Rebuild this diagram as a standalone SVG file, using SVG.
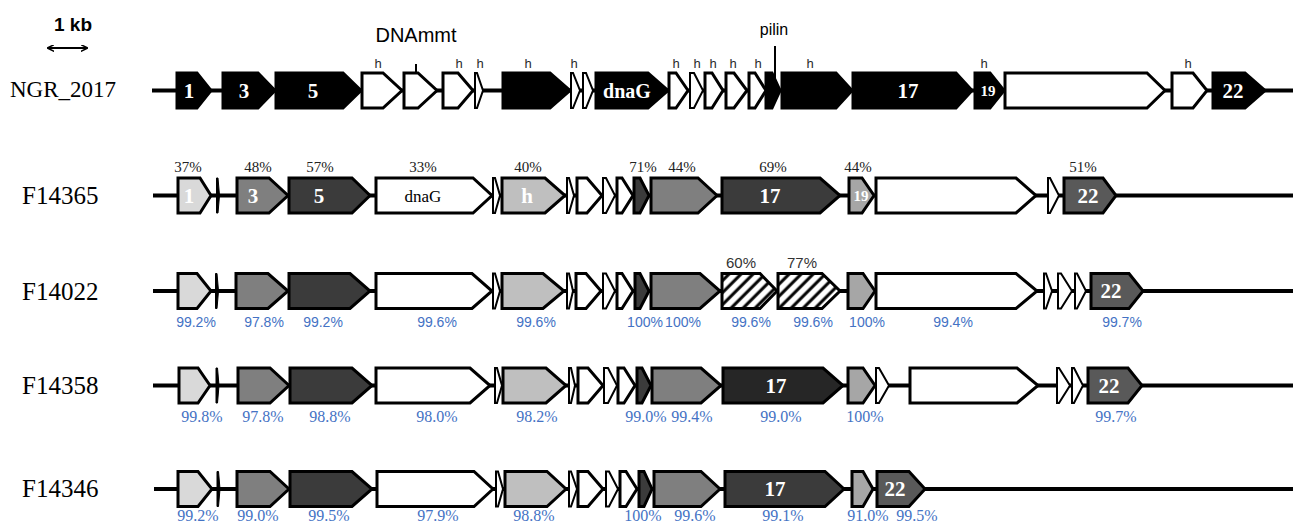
<svg xmlns="http://www.w3.org/2000/svg" width="1293" height="524" viewBox="0 0 1293 524">
<defs>
<pattern id="hatch" patternUnits="userSpaceOnUse" width="8.5" height="8.5" patternTransform="rotate(45)">
<rect width="8.5" height="8.5" fill="#fff"/>
<line x1="2" y1="0" x2="2" y2="8.5" stroke="#000" stroke-width="3"/>
</pattern>
<marker id="ah" viewBox="0 0 10 10" refX="9" refY="5" markerWidth="7" markerHeight="7" orient="auto-start-reverse" markerUnits="userSpaceOnUse">
<path d="M0,0 L10,5 L0,10" fill="none" stroke="#000" stroke-width="2"/>
</marker>
<style>
.g{stroke:#000;stroke-width:3;stroke-linejoin:miter}
.n{stroke:#000;stroke-width:2;stroke-linejoin:miter}
.nb{fill:#000;stroke:#000;stroke-width:1}
.k{fill:#000}.w{fill:#fff}.l{fill:#d9d9d9}.m{fill:#7f7f7f}.d{fill:#3b3b3b}.hl{fill:#bfbfbf}.s{fill:#a6a6a6}.t{fill:#595959}.dd{fill:#262626}.hx{fill:url(#hatch)}
.bb{stroke:#000;stroke-width:4;fill:none}
.gl{font-family:"Liberation Serif",serif;font-weight:bold;font-size:21px;fill:#fff;text-anchor:middle}
.gs{font-family:"Liberation Serif",serif;font-weight:bold;font-size:15px;fill:#fff;text-anchor:middle}
.gn{font-family:"Liberation Serif",serif;font-size:17px;fill:#000;text-anchor:middle}
.pc{font-family:"Liberation Serif",serif;font-size:15px;fill:#222;text-anchor:middle}
.ps{font-family:"Liberation Sans",sans-serif;font-size:15px;fill:#333;text-anchor:middle}
.bl{font-family:"Liberation Sans",sans-serif;font-size:14px;fill:#4472c4;text-anchor:middle}
.bs{font-family:"Liberation Serif",serif;font-size:16px;fill:#4472c4;text-anchor:middle}
.hh{font-family:"Liberation Sans",sans-serif;font-size:13px;fill:#2a2a2a;text-anchor:middle}
.rl{font-family:"Liberation Serif",serif;font-size:25px;fill:#000}
</style>
</defs>
<rect width="1293" height="524" fill="#fff"/>

<g id="scalebar">
<text x="73" y="31" font-family="Liberation Sans, sans-serif" font-weight="bold" font-size="19" text-anchor="middle" fill="#000">1 kb</text>
<line x1="48" y1="48" x2="87" y2="48" stroke="#000" stroke-width="2" marker-start="url(#ah)" marker-end="url(#ah)"/>
</g>

<g id="backbones">
<line class="bb" x1="152" y1="90.5" x2="1293" y2="90.5"/>
<line class="bb" x1="153" y1="195.5" x2="1293" y2="195.5"/>
<line class="bb" x1="153" y1="291" x2="1293" y2="291"/>
<line class="bb" x1="153" y1="385.5" x2="1293" y2="385.5"/>
<line class="bb" x1="154" y1="489" x2="1293" y2="489"/>
</g>

<g id="row-NGR_2017">
<text class="rl" x="10" y="97" style="font-size:23px">NGR_2017</text>
<text x="416" y="42" font-family="Liberation Sans, sans-serif" font-size="20" text-anchor="middle" fill="#000">DNAmmt</text>
<line x1="416" y1="64" x2="416" y2="73" stroke="#000" stroke-width="2"/>
<text x="774" y="35" font-family="Liberation Sans, sans-serif" font-size="16" text-anchor="middle" fill="#000">pilin</text>
<line x1="775" y1="46" x2="775" y2="80" stroke="#000" stroke-width="2"/>
<g class="hh">
<text x="378" y="68">h</text><text x="459" y="68">h</text><text x="480" y="68">h</text><text x="528" y="68">h</text><text x="574" y="68">h</text>
<text x="676" y="68">h</text><text x="697" y="68">h</text><text x="713" y="68">h</text><text x="733" y="68">h</text><text x="758" y="68">h</text>
<text x="810" y="68">h</text><text x="984" y="68">h</text><text x="1188" y="68">h</text>
</g>
<g transform="translate(0,90.5)">
<g id="r1-g1"><polygon class="g k" points="177,-17.5 197,-17.5 211,0 197,17.5 177,17.5"/><text class="gl" x="189" y="7">1</text></g>
<g id="r1-g3"><polygon class="g k" points="223,-17.5 258,-17.5 275,0 258,17.5 223,17.5"/><text class="gl" x="244" y="7">3</text></g>
<g id="r1-g5"><polygon class="g k" points="276,-17.5 343,-17.5 361,0 343,17.5 276,17.5"/><text class="gl" x="313" y="7">5</text></g>
<g id="r1-h1"><polygon class="g w" points="362,-17.5 383,-17.5 402,0 383,17.5 362,17.5"/></g>
<g id="r1-dnammt"><polygon class="g w" points="404,-17.5 418,-17.5 437,0 418,17.5 404,17.5"/></g>
<g id="r1-h2"><polygon class="g w" points="443,-17.5 458,-17.5 473,0 458,17.5 443,17.5"/></g>
<g id="r1-h3"><polygon class="n w" points="475,-17.5 477,-17.5 483,0 477,17.5 475,17.5"/></g>
<g id="r1-h4"><polygon class="g k" points="503,-17.5 550,-17.5 570,0 550,17.5 503,17.5"/></g>
<g id="r1-h5a"><polygon class="n w" points="571,-17.5 573,-17.5 580,0 573,17.5 571,17.5"/></g>
<g id="r1-h5b"><polygon class="n w" points="583,-17.5 586,-17.5 593,0 586,17.5 583,17.5"/></g>
<g id="r1-dnaG"><polygon class="g k" points="596,-17.5 648,-17.5 668,0 648,17.5 596,17.5"/><text class="gl" x="627" y="7" style="font-size:20px">dnaG</text></g>
<g id="r1-h6"><polygon class="g w" points="669,-17.5 676,-17.5 688,0 676,17.5 669,17.5"/></g>
<g id="r1-h7"><polygon class="n w" points="690,-17.5 694,-17.5 703,0 694,17.5 690,17.5"/></g>
<g id="r1-h8"><polygon class="g w" points="705,-17.5 712,-17.5 723,0 712,17.5 705,17.5"/></g>
<g id="r1-h9"><polygon class="g w" points="726,-17.5 734,-17.5 747,0 734,17.5 726,17.5"/></g>
<g id="r1-h10"><polygon class="g w" points="749,-17.5 755,-17.5 766,0 755,17.5 749,17.5"/></g>
<g id="r1-pilin"><polygon class="g k" points="766,-17.5 772,-17.5 780,0 772,17.5 766,17.5"/></g>
<g id="r1-h11"><polygon class="g k" points="782,-17.5 836,-17.5 852,0 836,17.5 782,17.5"/></g>
<g id="r1-g17"><polygon class="g k" points="853,-17.5 956,-17.5 972,0 956,17.5 853,17.5"/><text class="gl" x="908" y="7">17</text></g>
<g id="r1-g19"><polygon class="g k" points="975,-17.5 990,-17.5 1004,0 990,17.5 975,17.5"/><text class="gs" x="988" y="5">19</text></g>
<g id="r1-w20"><polygon class="g w" points="1005,-17.5 1147,-17.5 1165,0 1147,17.5 1005,17.5"/></g>
<g id="r1-h12"><polygon class="g w" points="1172,-17.5 1193,-17.5 1207,0 1193,17.5 1172,17.5"/></g>
<g id="r1-g22"><polygon class="g k" points="1213,-17.5 1245,-17.5 1265,0 1245,17.5 1213,17.5"/><text class="gl" x="1233" y="7">22</text></g>
</g>
</g>

<g id="row-F14365">
<text class="rl" x="22" y="204">F14365</text>
<g class="pc">
<text x="188" y="172">37%</text><text x="258" y="172">48%</text><text x="320" y="172">57%</text><text x="423" y="172">33%</text><text x="528" y="172">40%</text>
<text x="643" y="172">71%</text><text x="682" y="172">44%</text><text x="773" y="172">69%</text><text x="858" y="172">44%</text><text x="1083" y="172">51%</text>
</g>
<g transform="translate(0,195.5)">
<g id="r2-g1"><polygon class="g l" points="178,-17.5 200,-17.5 211,0 200,17.5 178,17.5"/><text class="gl" x="189" y="7">1</text></g>
<g id="r2-g2"><polygon class="nb" points="216.5,-17.5 218,-17.5 219.5,0 218,17.5 216.5,17.5"/></g>
<g id="r2-g3"><polygon class="g m" points="237,-17.5 269,-17.5 288,0 269,17.5 237,17.5"/><text class="gl" x="253" y="7">3</text></g>
<g id="r2-g5"><polygon class="g d" points="289,-17.5 352,-17.5 370,0 352,17.5 289,17.5"/><text class="gl" x="319" y="7">5</text></g>
<g id="r2-dnaG"><polygon class="g w" points="376,-17.5 473,-17.5 492,0 473,17.5 376,17.5"/><text class="gn" x="423" y="6">dnaG</text></g>
<g id="r2-n1"><polygon class="n w" points="493,-17.5 495,-17.5 500,0 495,17.5 493,17.5"/></g>
<g id="r2-h"><polygon class="g hl" points="502,-17.5 545,-17.5 565,0 545,17.5 502,17.5"/><text class="gl" x="527" y="7">h</text></g>
<g id="r2-n2"><polygon class="n w" points="567,-17.5 569,-17.5 574,0 569,17.5 567,17.5"/></g>
<g id="r2-w1"><polygon class="g w" points="577,-17.5 587,-17.5 602,0 587,17.5 577,17.5"/></g>
<g id="r2-w2"><polygon class="n w" points="603,-17.5 606,-17.5 615,0 606,17.5 603,17.5"/></g>
<g id="r2-w3"><polygon class="g w" points="617,-17.5 622,-17.5 633,0 622,17.5 617,17.5"/></g>
<g id="r2-d1"><polygon class="g d" points="634,-17.5 640,-17.5 649,0 640,17.5 634,17.5"/></g>
<g id="r2-m1"><polygon class="g m" points="651,-17.5 698,-17.5 717,0 698,17.5 651,17.5"/></g>
<g id="r2-g17"><polygon class="g d" points="722,-17.5 820,-17.5 840,0 820,17.5 722,17.5"/><text class="gl" x="770" y="7">17</text></g>
<g id="r2-g19"><polygon class="g s" points="849,-17.5 862,-17.5 874,0 862,17.5 849,17.5"/><text class="gs" x="861" y="5">19</text></g>
<g id="r2-w4"><polygon class="g w" points="876,-17.5 1016,-17.5 1036,0 1016,17.5 876,17.5"/></g>
<g id="r2-n3"><polygon class="n w" points="1048,-17.5 1050,-17.5 1059,0 1050,17.5 1048,17.5"/></g>
<g id="r2-g22"><polygon class="g t" points="1064,-17.5 1103,-17.5 1116,0 1103,17.5 1064,17.5"/><text class="gl" x="1088" y="7">22</text></g>
</g>
</g>

<g id="row-F14022">
<text class="rl" x="22" y="300">F14022</text>
<text class="ps" x="741" y="268">60%</text><text class="ps" x="802" y="268">77%</text>
<g class="bl">
<text x="196" y="327">99.2%</text><text x="264" y="327">97.8%</text><text x="323" y="327">99.2%</text><text x="437" y="327">99.6%</text><text x="536" y="327">99.6%</text>
<text x="645" y="327">100%</text><text x="683" y="327">100%</text><text x="751" y="327">99.6%</text><text x="813" y="327">99.6%</text><text x="867" y="327">100%</text>
<text x="953" y="327">99.4%</text><text x="1122" y="327">99.7%</text>
</g>
<g transform="translate(0,291)">
<g id="r3-g1"><polygon class="g l" points="178,-17.5 197,-17.5 211,0 197,17.5 178,17.5"/></g>
<g id="r3-g2"><polygon class="nb" points="215.5,-17.5 217,-17.5 218.5,0 217,17.5 215.5,17.5"/></g>
<g id="r3-g3"><polygon class="g m" points="236,-17.5 268,-17.5 288,0 268,17.5 236,17.5"/></g>
<g id="r3-g5"><polygon class="g d" points="289,-17.5 350,-17.5 370,0 350,17.5 289,17.5"/></g>
<g id="r3-dnaG"><polygon class="g w" points="376,-17.5 472,-17.5 492,0 472,17.5 376,17.5"/></g>
<g id="r3-n1"><polygon class="n w" points="493,-17.5 495,-17.5 500,0 495,17.5 493,17.5"/></g>
<g id="r3-h"><polygon class="g hl" points="502,-17.5 543,-17.5 564,0 543,17.5 502,17.5"/></g>
<g id="r3-n2"><polygon class="n w" points="567,-17.5 569,-17.5 573,0 569,17.5 567,17.5"/></g>
<g id="r3-w1"><polygon class="g w" points="576,-17.5 586,-17.5 601,0 586,17.5 576,17.5"/></g>
<g id="r3-w2"><polygon class="n w" points="603,-17.5 606,-17.5 615,0 606,17.5 603,17.5"/></g>
<g id="r3-w3"><polygon class="g w" points="617,-17.5 622,-17.5 633,0 622,17.5 617,17.5"/></g>
<g id="r3-d1"><polygon class="g d" points="635,-17.5 640,-17.5 649,0 640,17.5 635,17.5"/></g>
<g id="r3-m1"><polygon class="g m" points="651,-17.5 700,-17.5 720,0 700,17.5 651,17.5"/></g>
<g id="r3-x1"><polygon class="g hx" points="722,-17.5 760,-17.5 777,0 760,17.5 722,17.5"/></g>
<g id="r3-x2"><polygon class="g hx" points="778,-17.5 822,-17.5 840,0 822,17.5 778,17.5"/></g>
<g id="r3-g19"><polygon class="g s" points="848,-17.5 863,-17.5 875,0 863,17.5 848,17.5"/></g>
<g id="r3-w4"><polygon class="g w" points="876,-17.5 1016,-17.5 1037,0 1016,17.5 876,17.5"/></g>
<g id="r3-n3"><polygon class="n w" points="1044,-17.5 1046,-17.5 1052,0 1046,17.5 1044,17.5"/></g>
<g id="r3-n4"><polygon class="n w" points="1058,-17.5 1061,-17.5 1072,0 1061,17.5 1058,17.5"/></g>
<g id="r3-n5"><polygon class="n w" points="1075,-17.5 1077,-17.5 1086,0 1077,17.5 1075,17.5"/></g>
<g id="r3-g22"><polygon class="g t" points="1091,-17.5 1129,-17.5 1143,0 1129,17.5 1091,17.5"/><text class="gl" x="1111" y="7">22</text></g>
</g>
</g>

<g id="row-F14358">
<text class="rl" x="22" y="394">F14358</text>
<g class="bs">
<text x="202" y="422">99.8%</text><text x="263" y="422">97.8%</text><text x="330" y="422">98.8%</text><text x="437" y="422">98.0%</text><text x="537" y="422">98.2%</text>
<text x="646" y="422">99.0%</text><text x="692" y="422">99.4%</text><text x="781" y="422">99.0%</text><text x="865" y="422">100%</text><text x="1116" y="422">99.7%</text>
</g>
<g transform="translate(0,385.5)">
<g id="r4-g1"><polygon class="g l" points="179,-17.5 198,-17.5 210,0 198,17.5 179,17.5"/></g>
<g id="r4-g2"><polygon class="nb" points="216,-17.5 217.5,-17.5 219,0 217.5,17.5 216,17.5"/></g>
<g id="r4-g3"><polygon class="g m" points="238,-17.5 270,-17.5 289,0 270,17.5 238,17.5"/></g>
<g id="r4-g5"><polygon class="g d" points="290,-17.5 352,-17.5 372,0 352,17.5 290,17.5"/></g>
<g id="r4-dnaG"><polygon class="g w" points="376,-17.5 470,-17.5 490,0 470,17.5 376,17.5"/></g>
<g id="r4-n1"><polygon class="n w" points="495,-17.5 497,-17.5 502,0 497,17.5 495,17.5"/></g>
<g id="r4-h"><polygon class="g hl" points="503,-17.5 546,-17.5 566,0 546,17.5 503,17.5"/></g>
<g id="r4-n2"><polygon class="n w" points="569,-17.5 571,-17.5 575,0 571,17.5 569,17.5"/></g>
<g id="r4-w1"><polygon class="g w" points="578,-17.5 588,-17.5 603,0 588,17.5 578,17.5"/></g>
<g id="r4-w2"><polygon class="n w" points="604,-17.5 608,-17.5 617,0 608,17.5 604,17.5"/></g>
<g id="r4-w3"><polygon class="g w" points="618,-17.5 624,-17.5 635,0 624,17.5 618,17.5"/></g>
<g id="r4-d1"><polygon class="g d" points="637,-17.5 642,-17.5 651,0 642,17.5 637,17.5"/></g>
<g id="r4-m1"><polygon class="g m" points="652,-17.5 701,-17.5 721,0 701,17.5 652,17.5"/></g>
<g id="r4-g17"><polygon class="g dd" points="723,-17.5 823,-17.5 843,0 823,17.5 723,17.5"/><text class="gl" x="776" y="7">17</text></g>
<g id="r4-g19"><polygon class="g s" points="848,-17.5 863,-17.5 875,0 863,17.5 848,17.5"/></g>
<g id="r4-n3"><polygon class="n w" points="876,-17.5 879,-17.5 889,0 879,17.5 876,17.5"/></g>
<g id="r4-w4"><polygon class="g w" points="910,-17.5 1017,-17.5 1038,0 1017,17.5 910,17.5"/></g>
<g id="r4-n4"><polygon class="n w" points="1057,-17.5 1059,-17.5 1070,0 1059,17.5 1057,17.5"/></g>
<g id="r4-n5"><polygon class="n w" points="1072,-17.5 1074,-17.5 1083,0 1074,17.5 1072,17.5"/></g>
<g id="r4-g22"><polygon class="g t" points="1088,-17.5 1128,-17.5 1142,0 1128,17.5 1088,17.5"/><text class="gl" x="1109" y="7">22</text></g>
</g>
</g>

<g id="row-F14346">
<text class="rl" x="22" y="497">F14346</text>
<g class="bs">
<text x="198" y="521">99.2%</text><text x="258" y="521">99.0%</text><text x="329" y="521">99.5%</text><text x="438" y="521">97.9%</text><text x="534" y="521">98.8%</text>
<text x="643" y="521">100%</text><text x="695" y="521">99.6%</text><text x="783" y="521">99.1%</text><text x="868" y="521">91.0%</text><text x="917" y="521">99.5%</text>
</g>
<g transform="translate(0,489)">
<g id="r5-g1"><polygon class="g l" points="178,-17.5 198,-17.5 212,0 198,17.5 178,17.5"/></g>
<g id="r5-g2"><polygon class="nb" points="217,-17.5 218.5,-17.5 220,0 218.5,17.5 217,17.5"/></g>
<g id="r5-g3"><polygon class="g m" points="237,-17.5 270,-17.5 289,0 270,17.5 237,17.5"/></g>
<g id="r5-g5"><polygon class="g d" points="290,-17.5 352,-17.5 372,0 352,17.5 290,17.5"/></g>
<g id="r5-dnaG"><polygon class="g w" points="377,-17.5 474,-17.5 493,0 474,17.5 377,17.5"/></g>
<g id="r5-n1"><polygon class="n w" points="496,-17.5 498,-17.5 503,0 498,17.5 496,17.5"/></g>
<g id="r5-h"><polygon class="g hl" points="505,-17.5 547,-17.5 566,0 547,17.5 505,17.5"/></g>
<g id="r5-n2"><polygon class="n w" points="569,-17.5 571,-17.5 577,0 571,17.5 569,17.5"/></g>
<g id="r5-w1"><polygon class="g w" points="578,-17.5 588,-17.5 603,0 588,17.5 578,17.5"/></g>
<g id="r5-w2"><polygon class="n w" points="606,-17.5 609,-17.5 618,0 609,17.5 606,17.5"/></g>
<g id="r5-w3"><polygon class="g w" points="620,-17.5 626,-17.5 637,0 626,17.5 620,17.5"/></g>
<g id="r5-d1"><polygon class="g d" points="639,-17.5 644,-17.5 652,0 644,17.5 639,17.5"/></g>
<g id="r5-m1"><polygon class="g m" points="654,-17.5 701,-17.5 720,0 701,17.5 654,17.5"/></g>
<g id="r5-g17"><polygon class="g d" points="725,-17.5 825,-17.5 844,0 825,17.5 725,17.5"/><text class="gl" x="775" y="7">17</text></g>
<g id="r5-g19"><polygon class="g s" points="852,-17.5 863,-17.5 873,0 863,17.5 852,17.5"/></g>
<g id="r5-g22"><polygon class="g t" points="877,-17.5 909,-17.5 925,0 909,17.5 877,17.5"/><text class="gl" x="895" y="7">22</text></g>
</g>
</g>
</svg>
